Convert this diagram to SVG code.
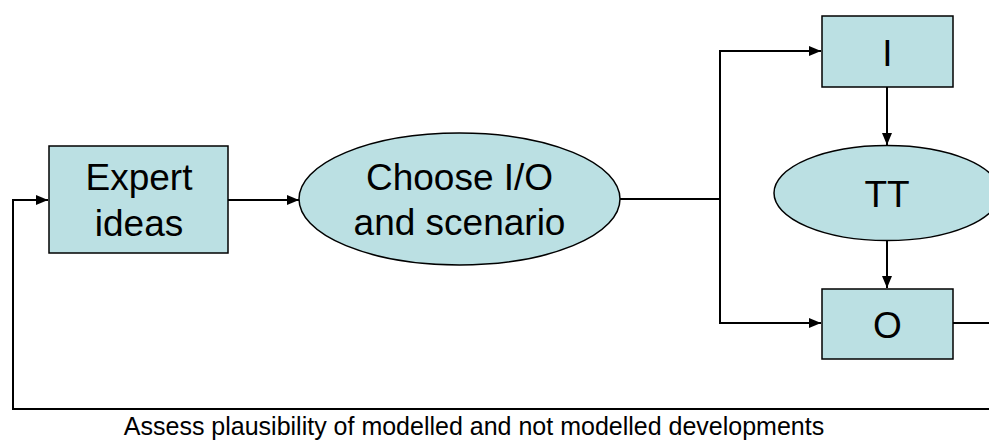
<svg xmlns="http://www.w3.org/2000/svg" width="989" height="441" viewBox="0 0 989 441">
<style>
.node{fill:#BBE0E3;stroke:#000;stroke-width:1.5}
.lbl{font-family:"Liberation Sans",Arial,sans-serif;font-size:37px;fill:#000;text-anchor:middle}
.conn{fill:none;stroke:#000;stroke-width:2}
.cap{font-family:"Liberation Sans",Arial,sans-serif;font-size:25px;fill:#000;text-anchor:middle}
</style>
<defs>
<marker id="ah" viewBox="0 0 12 10" refX="12" refY="5" markerWidth="12" markerHeight="10" markerUnits="userSpaceOnUse" orient="auto">
<path d="M0,0 L12,5 L0,10 Z" fill="#000"/>
</marker>
</defs>
<rect width="989" height="441" fill="#fff"/>
<g id="connectors">
<line class="conn" x1="228" y1="200" x2="299" y2="200" marker-end="url(#ah)"/>
<line class="conn" x1="620" y1="199" x2="720" y2="199"/>
<polyline class="conn" points="720,199 720,51 821,51" marker-end="url(#ah)"/>
<polyline class="conn" points="720,199 720,323 821,323" marker-end="url(#ah)"/>
<line class="conn" x1="887" y1="87" x2="887" y2="145" marker-end="url(#ah)"/>
<line class="conn" x1="887" y1="241" x2="887" y2="288" marker-end="url(#ah)"/>
<polyline class="conn" points="953,323 995,323"/>
<polyline class="conn" points="995,409 13,409 13,200 48,200" marker-end="url(#ah)"/>
</g>
<g id="expert">
<rect class="node" x="49" y="146" width="179" height="107"/>
<text class="lbl" x="139" y="190">Expert</text>
<text class="lbl" x="139" y="236">ideas</text>
</g>
<g id="choose">
<ellipse class="node" cx="459.5" cy="199" rx="160.5" ry="66"/>
<text class="lbl" x="459.5" y="190">Choose I/O</text>
<text class="lbl" x="459.5" y="235">and scenario</text>
</g>
<g id="i">
<rect class="node" x="822" y="16" width="131" height="71"/>
<text class="lbl" x="887.5" y="66">I</text>
</g>
<g id="tt">
<ellipse class="node" cx="887" cy="193" rx="113" ry="47.5"/>
<text class="lbl" x="887" y="207">TT</text>
</g>
<g id="o">
<rect class="node" x="822" y="289" width="131" height="70"/>
<text class="lbl" x="887.5" y="338">O</text>
</g>
<g id="caption">
<text class="cap" x="474" y="435">Assess plausibility of modelled and not modelled developments</text>
</g>
</svg>
